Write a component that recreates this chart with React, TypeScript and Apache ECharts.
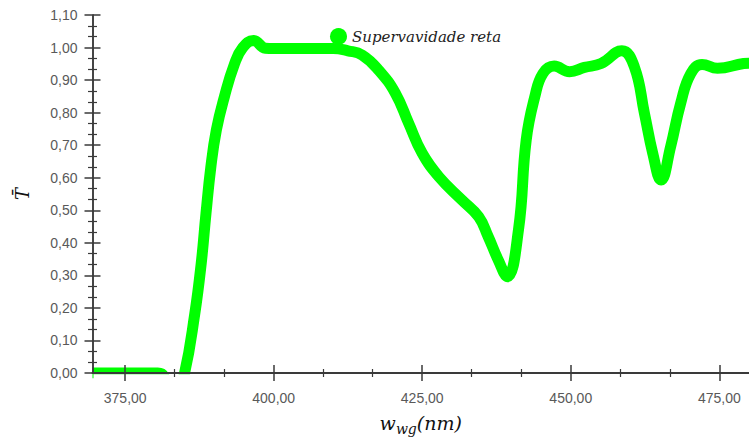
import React, { useEffect, useRef } from "react";
import * as echarts from "echarts";

// Wavelength (nm) and mean transmittance samples of the straight supercavity curve
const wavelengths: number[] = [
  369.5, 373, 377, 380.5, 381.5, 383.2, 385, 386.7, 387.8, 388.6, 389.4, 390.35, 391.7, 393.4,
  394.8, 396.6, 398.6, 400, 405, 410, 412.5, 414.9, 417.7, 420.5, 422.7, 425, 427.8, 431.7,
  434.5, 436.1, 437.8, 439.3, 441.2, 442.5, 443.95, 445.3, 447.2, 449.8, 452.3, 455.1, 458.6,
  460.7, 462.4, 463.8, 465.2, 466.8, 468.5, 470.2, 472.1, 474.7, 479.1, 480,
];
const transmittance: number[] = [
  0, 0, 0, 0, -0.01, -0.1, 0, 0.18, 0.337, 0.49, 0.63, 0.747, 0.849, 0.95,
  1.0, 1.022, 0.998, 0.997, 0.997, 0.997, 0.99, 0.977, 0.93, 0.859, 0.768, 0.675, 0.603, 0.531,
  0.48, 0.419, 0.347, 0.296, 0.44, 0.716, 0.849, 0.92, 0.943, 0.926, 0.939, 0.951, 0.99,
  0.941, 0.798, 0.675, 0.593, 0.695, 0.829, 0.92, 0.948, 0.936, 0.951, 0.952,
];

const seriesName = "Supervavidade reta";
const xMajorTicks: number[] = [375, 400, 425, 450, 475];
const xMinorTicks: number[] = [383.33, 391.67, 408.33, 416.67, 433.33, 441.67, 458.33, 466.67];

const AXIS_COLOR = "#3a3a3a";
const LABEL_COLOR = "#595959";

const fmt = (v: number) => v.toFixed(2).replace(".", ",");

export default function App() {
  const ref = useRef<HTMLDivElement>(null);

  useEffect(() => {
    if (!ref.current) return;
    const chart = echarts.init(ref.current, undefined, { renderer: "svg" });

    const xMin = 369.5;
    const xMax = 480;

    const baseX = (extra: any) => ({
      type: "value",
      min: xMin,
      max: xMax,
      position: "bottom",
      z: 10,
      splitLine: { show: false },
      axisLine: { show: true, onZero: false, lineStyle: { color: AXIS_COLOR, width: 1.5 } },
      axisLabel: { show: false },
      ...extra,
    });

    const baseY = (extra: any) => ({
      type: "value",
      min: 0,
      max: 1.1,
      interval: 0.1,
      position: "left",
      z: 10,
      splitLine: { show: false },
      axisLine: { show: true, onZero: false, lineStyle: { color: AXIS_COLOR, width: 1.5 } },
      ...extra,
    });

    chart.setOption({
      animation: false,
      backgroundColor: "#ffffff",
      grid: { left: 92.5, right: -3.5, top: 15, bottom: 67.5, containLabel: false },
      legend: {
        data: [{ name: seriesName, icon: "circle" }],
        left: 325,
        top: 23,
        itemWidth: 17,
        itemHeight: 17,
        itemGap: 6,
        textStyle: {
          fontFamily: "DejaVu Serif",
          fontStyle: "italic",
          fontSize: 15,
          color: "#222",
        },
      },
      xAxis: [
        baseX({
          axisTick: {
            show: true,
            customValues: xMajorTicks,
            length: 8,
            lineStyle: { color: AXIS_COLOR, width: 1.5 },
          },
          axisLabel: {
            show: true,
            customValues: xMajorTicks,
            formatter: (v: number) => fmt(v),
            color: LABEL_COLOR,
            fontFamily: "Liberation Sans",
            fontSize: 14,
            margin: 18,
          },
          name: "{a|w}{s|wg}{a|(nm)}",
          nameLocation: "middle",
          nameGap: 37,
          nameTextStyle: {
            rich: {
              a: { fontFamily: "DejaVu Serif", fontStyle: "italic", fontSize: 19, color: "#111" },
              s: {
                fontFamily: "DejaVu Serif",
                fontStyle: "italic",
                fontSize: 14,
                color: "#111",
                padding: [12, 0, 0, 0],
              },
            },
          },
        }),
        baseX({
          axisTick: {
            show: true,
            inside: true,
            customValues: xMajorTicks,
            length: 8,
            lineStyle: { color: AXIS_COLOR, width: 1.5 },
          },
        }),
        baseX({
          axisTick: {
            show: true,
            customValues: xMinorTicks,
            length: 4,
            lineStyle: { color: AXIS_COLOR, width: 1.2 },
          },
        }),
        baseX({
          axisTick: {
            show: true,
            inside: true,
            customValues: xMinorTicks,
            length: 4,
            lineStyle: { color: AXIS_COLOR, width: 1.2 },
          },
        }),
      ],
      yAxis: [
        baseY({
          axisTick: { show: true, length: 8, lineStyle: { color: AXIS_COLOR, width: 1.5 } },
          minorTick: { show: true, splitNumber: 3, length: 4.5, lineStyle: { color: AXIS_COLOR, width: 1.2 } },
          axisLabel: {
            formatter: (v: number) => fmt(v),
            color: LABEL_COLOR,
            fontFamily: "Liberation Sans",
            fontSize: 14,
            margin: 15,
          },
          name: "T\u0304",
          nameLocation: "middle",
          nameGap: 61,
          nameRotate: 90,
          nameTextStyle: {
            fontFamily: "DejaVu Serif",
            fontStyle: "italic",
            fontSize: 18,
            color: "#111",
          },
        }),
        baseY({
          axisTick: { show: true, inside: true, length: 8, lineStyle: { color: AXIS_COLOR, width: 1.5 } },
          minorTick: { show: true, splitNumber: 3, length: 4.5, lineStyle: { color: AXIS_COLOR, width: 1.2 } },
          axisLabel: { show: false },
        }),
      ],
      graphic: [
        {
          // keeps the curve from bleeding below the baseline
          type: "rect",
          z: 5,
          shape: { x: 93.5, y: 374.3, width: 660, height: 7 },
          style: { fill: "#ffffff" },
          silent: true,
        },
      ],
      series: [
        {
          name: seriesName,
          type: "line",
          xAxisIndex: 0,
          yAxisIndex: 0,
          smooth: 0.45,
          showSymbol: false,
          symbol: "circle",
          z: 2,
          itemStyle: { color: "#00ff00" },
          lineStyle: { color: "#00ff00", width: 11, cap: "butt", join: "round" },
          data: wavelengths.map((w, i) => [w, transmittance[i]]),
        },
      ],
    });

    return () => chart.dispose();
  }, []);

  return (
    <div
      ref={ref}
      style={{ position: "fixed", left: 0, top: 0, width: 749, height: 441 }}
    />
  );
}
